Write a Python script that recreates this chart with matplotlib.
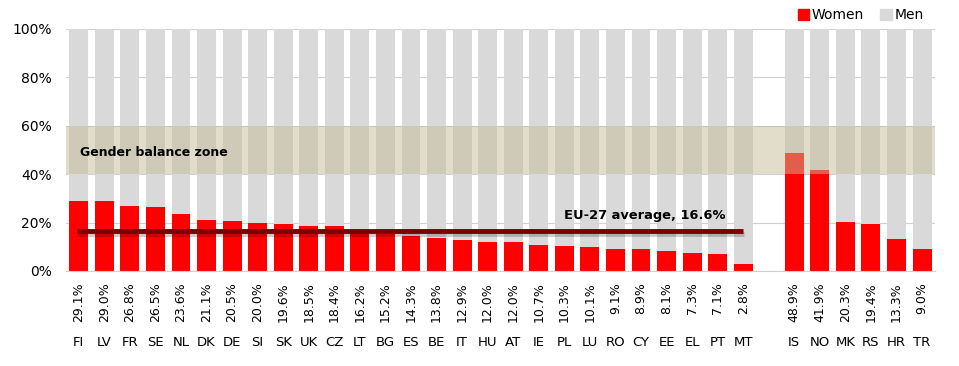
import matplotlib
matplotlib.use("Agg")
import matplotlib.pyplot as plt
import matplotlib.patheffects as pe
from matplotlib.patches import Patch
from matplotlib.transforms import blended_transform_factory

# Share of women on boards (%), EU-27 then candidate / EEA countries
eu_codes = ["FI", "LV", "FR", "SE", "NL", "DK", "DE", "SI", "SK", "UK", "CZ", "LT",
            "BG", "ES", "BE", "IT", "HU", "AT", "IE", "PL", "LU", "RO", "CY", "EE",
            "EL", "PT", "MT"]
eu_women = [29.1, 29.0, 26.8, 26.5, 23.6, 21.1, 20.5, 20.0, 19.6, 18.5, 18.4, 16.2,
            15.2, 14.3, 13.8, 12.9, 12.0, 12.0, 10.7, 10.3, 10.1, 9.1, 8.9, 8.1,
            7.3, 7.1, 2.8]
other_codes = ["IS", "NO", "MK", "RS", "HR", "TR"]
other_women = [48.9, 41.9, 20.3, 19.4, 13.3, 9.0]
eu_average = 16.6
balance_zone = (40, 60)

codes = eu_codes + other_codes
women = eu_women + other_women
men = [100 - w for w in women]
# one empty slot between the EU group and the others
xpos = list(range(len(eu_codes))) + [len(eu_codes) + 1 + i for i in range(len(other_codes))]

RED = "#ff0000"
GREY = "#d9d9d9"

fig = plt.figure(figsize=(9.59, 3.66), dpi=100)
ax = fig.add_axes([0.0688, 0.2596, 0.906, 0.6612])

ax.bar(xpos, women, width=0.74, color=RED, zorder=2)
ax.bar(xpos, men, bottom=women, width=0.74, color=GREY, zorder=2)

# gender balance zone
ax.axhspan(balance_zone[0], balance_zone[1], color="#c4bd97", alpha=0.5, lw=0, zorder=3)
ax.text(0.05, sum(balance_zone) / 2 - 1, "Gender balance zone", fontsize=9, fontweight="bold",
        va="center", ha="left", zorder=5)

# EU-27 average line
ax.plot([xpos[0] - 0.05, xpos[len(eu_codes) - 1]], [eu_average, eu_average], color="#7a0000",
        lw=3.5, solid_capstyle="butt", zorder=4,
        path_effects=[pe.SimpleLineShadow(offset=(0.5, -2), alpha=0.2), pe.Normal()])
ax.text(19.0, 23.1, "EU-27 average, %.1f%%" % eu_average, fontsize=9.4, fontweight="bold",
        va="center", ha="left", zorder=5)

ax.set_xlim(-0.5, xpos[-1] + 0.5)
ax.set_ylim(0, 100)
ax.set_yticks(range(0, 101, 20))
ax.set_yticklabels(["%d%%" % v for v in range(0, 101, 20)], fontsize=10)
ax.yaxis.grid(True, color="#d0d0d0", lw=0.8, zorder=0)
ax.set_axisbelow(True)
ax.tick_params(axis="y", length=0, pad=10)
for s in ["top", "right", "left"]:
    ax.spines[s].set_visible(False)
ax.spines["bottom"].set_color("#d0d0d0")

# country codes as tick labels, values rotated above them
ax.set_xticks(xpos)
ax.set_xticklabels(codes, fontsize=9.5)
ax.tick_params(axis="x", length=0, pad=47)
trans = blended_transform_factory(ax.transData, ax.transAxes)
for x, w in zip(xpos, women):
    ax.text(x, -0.045, "%.1f%%" % w, transform=trans, rotation=90, fontsize=9,
            ha="center", va="top")

handles = [Patch(color=RED, label="Women"), Patch(color=GREY, label="Men")]
ax.legend(handles=handles, loc="lower right", bbox_to_anchor=(0.995, 1.0), ncol=2,
          frameon=False, fontsize=10, handlelength=0.8, handleheight=0.8,
          handletextpad=0.2, columnspacing=1.2, borderaxespad=0.1)

fig.savefig("out.png", dpi=100)
